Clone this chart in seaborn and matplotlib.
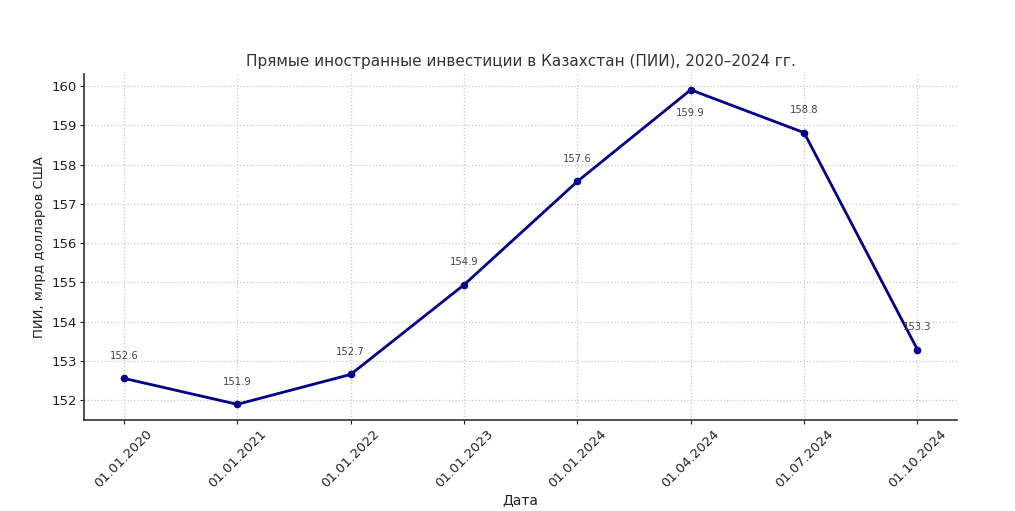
import pandas as pd
import seaborn as sns
import matplotlib
matplotlib.use('Agg')
import matplotlib.pyplot as plt

dates = ['01.01.2020', '01.01.2021', '01.01.2022', '01.01.2023',
         '01.01.2024', '01.04.2024', '01.07.2024', '01.10.2024']
fdi = [152.56, 151.90, 152.66, 154.94, 157.57, 159.90, 158.81, 153.29]
labels = ['152.6', '151.9', '152.7', '154.9', '157.6', '159.9', '158.8', '153.3']

df = pd.DataFrame({'date': dates, 'fdi': fdi})

sns.set_style('ticks')
plt.rcParams['font.family'] = ['DejaVu Sans']
plt.rcParams['text.color'] = '#333333'
plt.rcParams['axes.labelcolor'] = '#222222'
plt.rcParams['xtick.color'] = '#222222'
plt.rcParams['ytick.color'] = '#222222'

fig = plt.figure(figsize=(10.15, 5.11), dpi=100)
ax = fig.add_axes([0.083, 0.178, 0.86, 0.677])

sns.lineplot(data=df, x='date', y='fdi', ax=ax, color='darkblue',
             marker='o', markersize=5.5, markeredgewidth=0, linewidth=2, sort=False)

# value labels, the peak one goes below the point
for i, (v, t) in enumerate(zip(fdi, labels)):
    dy = -19 if i == 5 else 14
    ax.annotate(t, (i, v), textcoords='offset points', xytext=(0, dy),
                ha='center', fontsize=7.2, color='#444444')

ax.set_ylim(151.5, 160.3)
ax.set_xlim(-0.35, 7.35)
ax.grid(True, linestyle=':', color='#c8c8c8', linewidth=0.9)
sns.despine(ax=ax)
for s in ['left', 'bottom']:
    ax.spines[s].set_color('#333333')
    ax.spines[s].set_linewidth(1.2)

ax.tick_params(axis='both', labelsize=9.5, length=3, pad=2)
plt.setp(ax.get_xticklabels(), rotation=45)

ax.set_title('Прямые иностранные инвестиции в Казахстан (ПИИ), 2020–2024 гг.',
             fontsize=11, color='#333333', pad=6)
ax.set_xlabel('Дата', fontsize=10, labelpad=2)
ax.set_ylabel('ПИИ, млрд долларов США', fontsize=9.5)

plt.savefig('out.png', dpi=100)
